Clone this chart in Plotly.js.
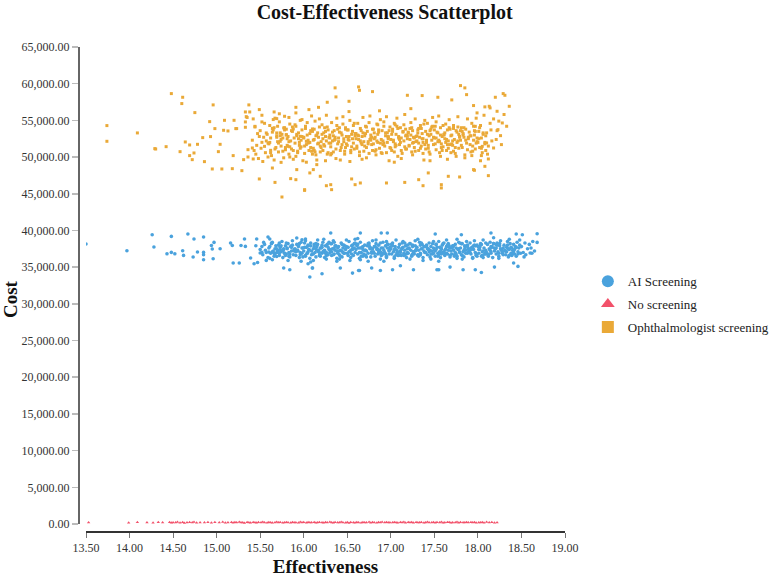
<!DOCTYPE html>
<html>
<head>
<meta charset="utf-8">
<script src="https://cdn.plot.ly/plotly-3.0.1.min.js"></script>
<style>html,body{margin:0;padding:0;background:#fff;}#chart{width:774px;height:577px;}</style>
</head>
<body>
<div id="chart"></div>
<script>
// ---------- Data ----------
const seriesNames = ["AI Screening", "No screening", "Ophthalmologist screening"];

const aiEff = [
13.50,13.97,14.26,14.28,14.48,14.43,14.48,14.52,14.67,14.74,14.85,14.61,14.62,14.73,14.78,14.85,14.85,14.85,14.94,14.97,
14.96,14.95,15.04,15.16,15.18,15.19,15.26,15.28,15.33,15.32,15.39,15.43,15.46,15.45,15.47,15.50,15.52,15.54,15.59,15.61,
15.64,15.57,15.60,15.64,15.69,15.72,15.77,15.84,16.07,16.10,16.05,15.92,15.98,16.02,16.21,16.56,16.31,16.65,16.89,16.96,
17.51,17.81,18.15,18.44,18.51,18.68,18.68,18.60,18.46,18.41,18.04,17.97,18.19,17.83,17.68,17.53,17.55,17.26,17.11,16.88,
17.02,16.63,16.64,16.78,16.42,16.10,
15.50,15.53,15.55,15.57,15.59,15.52,15.56,
15.60,15.62,15.63,15.65,15.66,15.68,15.69,15.61,15.67,
15.70,15.71,15.72,15.73,15.74,15.75,15.76,15.77,15.78,15.79,15.73,
15.80,15.81,15.82,15.83,15.84,15.85,15.86,15.87,15.88,15.89,15.82,15.86,
15.90,15.91,15.92,15.93,15.94,15.95,15.96,15.97,15.98,15.99,15.93,15.97,
16.00,16.01,16.02,16.03,16.04,16.05,16.06,16.07,16.08,16.09,16.02,16.05,16.08,
16.10,16.11,16.12,16.13,16.14,16.15,16.16,16.17,16.18,16.19,16.11,16.14,16.17,
16.20,16.21,16.22,16.23,16.24,16.25,16.26,16.27,16.28,16.29,16.23,16.26,16.21,
16.30,16.31,16.32,16.33,16.34,16.35,16.36,16.37,16.38,16.39,16.32,16.35,16.38,
16.40,16.41,16.42,16.43,16.44,16.45,16.46,16.47,16.48,16.49,16.41,16.44,16.47,
16.50,16.51,16.52,16.53,16.54,16.55,16.56,16.57,16.58,16.59,16.53,16.56,16.59,
16.60,16.61,16.62,16.63,16.64,16.65,16.66,16.67,16.68,16.69,16.62,16.65,16.68,
16.70,16.71,16.72,16.73,16.74,16.75,16.76,16.77,16.78,16.79,16.71,16.74,16.77,
16.80,16.81,16.82,16.83,16.84,16.85,16.86,16.87,16.88,16.89,16.83,16.86,16.89,
16.90,16.91,16.92,16.93,16.94,16.95,16.96,16.97,16.98,16.99,16.92,16.95,16.98,
17.00,17.01,17.02,17.03,17.04,17.05,17.06,17.07,17.08,17.09,17.01,17.04,17.07,
17.10,17.11,17.12,17.13,17.14,17.15,17.16,17.17,17.18,17.19,17.13,17.16,17.19,
17.20,17.21,17.22,17.23,17.24,17.25,17.26,17.27,17.28,17.29,17.22,17.25,17.28,
17.30,17.31,17.32,17.33,17.34,17.35,17.36,17.37,17.38,17.39,17.31,17.34,17.37,
17.40,17.41,17.42,17.43,17.44,17.45,17.46,17.47,17.48,17.49,17.43,17.46,17.49,
17.50,17.51,17.52,17.53,17.54,17.55,17.56,17.57,17.58,17.59,17.52,17.55,17.58,
17.60,17.61,17.62,17.63,17.64,17.65,17.66,17.67,17.68,17.69,17.61,17.64,17.67,
17.70,17.71,17.72,17.73,17.74,17.75,17.76,17.77,17.78,17.79,17.73,17.76,17.79,
17.80,17.81,17.82,17.83,17.84,17.85,17.86,17.87,17.88,17.89,17.82,17.85,17.88,
17.90,17.91,17.92,17.93,17.94,17.95,17.96,17.97,17.98,17.99,17.91,17.94,17.97,
18.00,18.01,18.02,18.03,18.04,18.05,18.06,18.07,18.08,18.09,18.03,18.06,18.09,
18.10,18.11,18.12,18.13,18.14,18.15,18.16,18.17,18.18,18.19,18.12,18.15,18.18,
18.20,18.21,18.22,18.23,18.24,18.25,18.26,18.27,18.28,18.29,18.21,18.24,18.27,
18.30,18.31,18.32,18.33,18.34,18.35,18.36,18.37,18.38,18.39,18.33,18.36,18.39,
18.40,18.41,18.42,18.43,18.44,18.45,18.46,18.47,18.48,18.49,
18.50,18.52,18.54,18.55,18.57,18.59,18.53,
18.61,18.63,18.65,18.62,
15.61,15.64,15.67,15.69,15.63,15.66,
15.71,15.74,15.77,15.79,15.72,15.76,15.78,
15.81,15.84,15.87,15.89,15.83,15.86,15.80,
15.91,15.94,15.96,15.98,15.92,15.99,15.95,
16.01,16.04,16.06,16.08,16.02,16.09,16.05,
16.11,16.14,16.16,16.18,16.12,16.19,16.15,
16.21,16.24,16.26,16.28,16.22,16.29,16.25,
16.31,16.34,16.36,16.38,16.32,16.39,16.35,
16.41,16.44,16.46,16.48,16.42,16.49,16.45,
16.51,16.54,16.56,16.58,16.52,16.59,16.55,
16.61,16.64,16.66,16.68,16.62,16.69,16.65,
16.71,16.74,16.76,16.78,16.72,16.79,16.75,
16.81,16.84,16.86,16.88,16.82,16.89,16.85,
16.91,16.94,16.96,16.98,16.92,16.99,16.95,
17.01,17.04,17.06,17.08,17.02,17.09,17.05,
17.11,17.14,17.16,17.18,17.12,17.19,17.15,
17.21,17.24,17.26,17.28,17.22,17.29,17.25,
17.31,17.34,17.36,17.38,17.32,17.39,17.35,
17.41,17.44,17.46,17.48,17.42,17.49,17.45,
17.51,17.54,17.56,17.58,17.52,17.59,17.55,
17.61,17.64,17.66,17.68,17.62,17.69,17.65,
17.71,17.74,17.76,17.78,17.72,17.79,17.75,
17.81,17.84,17.86,17.88,17.82,17.89,17.85,
17.91,17.94,17.96,17.98,17.92,17.99,17.95,
18.01,18.04,18.06,18.08,18.02,18.09,18.05,
18.11,18.14,18.16,18.18,18.12,18.19,18.15,
18.21,18.24,18.26,18.28,18.22,18.29,18.25,
18.31,18.34,18.36,18.38,18.32,18.39,18.35,
18.41,18.44,18.46,18.48,18.42
];
const aiCost = [
38150,37240,39420,37740,39190,36830,37010,36830,39510,38830,39100,37240,36600,36380,37060,37010,36690,36010,37960,38370,
36150,37470,37510,38290,37960,35560,35560,37960,37830,38830,36240,35460,38830,37920,35640,36920,37010,38370,39100,38830,
38370,35920,37060,36010,36460,36920,34880,34650,33650,34880,35460,38970,38740,38830,34100,34190,39650,39650,39650,39650,
39520,39420,39650,39520,39420,39560,38370,36920,35100,35560,34280,34650,35010,34650,35010,34650,34650,34650,35190,34550,
34650,34550,34550,34880,34880,34880,
37400,36700,38100,37000,36300,37800,37300,
37600,36900,38300,37200,36500,37900,37000,36200,37500,
37300,38000,36600,37700,37100,38500,36300,37500,36900,37900,37400,
36800,37600,38200,37000,36400,37800,37200,38600,36700,37400,35900,37900,
37500,36600,38100,37200,37800,36300,37000,38400,36900,37600,37300,35800,
37200,38300,36500,37700,36900,38000,37400,36200,37900,36700,38600,37100,35700,
36800,37500,38100,37000,36400,37800,38700,37300,36600,37600,35900,38200,37100,
37600,36900,38400,37200,36300,37900,37000,38100,36700,37400,38800,36100,37700,
37000,38200,36600,37500,38600,36800,37300,37900,36200,37600,37100,38400,35800,
37800,36700,37300,38300,36400,37600,38000,36900,37400,38700,36100,37200,37900,
36900,37700,38500,37100,36300,37900,37400,36600,38200,37000,35900,37500,38800,
37400,38100,36800,37600,36200,38400,37000,37700,36500,37300,38900,36000,37800,
38000,36600,37200,37900,36900,38300,37500,36400,37100,38600,37300,35800,37600,
37100,37800,36500,38200,37400,36800,38000,37300,36100,37600,38700,36900,37000,
36700,38400,37300,37000,37900,36300,37600,38100,36800,37400,35800,38500,37200,
37500,36800,38300,37100,36400,37800,38700,37000,36600,37700,38100,36200,37300,
38100,37200,36600,37600,38500,36900,37300,37900,36300,37000,38300,36700,37500,
36900,37600,38200,37300,36500,38000,37100,36800,38600,37400,36100,37800,37200,
37700,36600,37300,38400,36900,37500,38100,36300,37800,37000,38800,36700,35900,
37000,38000,36700,37400,38300,36400,37800,37200,36800,38500,37500,36100,37600,
37300,36500,38100,37700,36900,38500,37100,36300,37600,38000,37400,35800,36800,
38200,37000,36600,37500,38700,36800,37300,37900,36400,37200,38300,36900,37700,
36800,37900,37300,36500,38100,37600,36200,37400,38400,37000,36700,38800,37100,
37600,36700,38200,37100,36400,37800,37300,38500,36900,37500,36100,37900,38000,
37200,38300,36800,37700,36300,37400,38600,37000,36600,38000,37500,36200,37900,
37800,36900,37400,38200,36500,37100,38700,37600,36800,37300,38000,36300,37000,
37000,38100,36600,37500,38400,36900,37700,36300,38200,37200,36700,37800,39000,
37500,36800,38300,37100,36500,37900,38600,37300,36900,37600,38100,36200,37400,
38000,37200,36700,37700,38500,36400,37400,38200,36900,37600,37100,38800,36600,
37300,38100,36800,37800,36500,38400,37100,37600,38700,36900,
37800,37000,38300,36700,37500,38100,36400,
37600,38500,37200,36900,
37800,37100,36700,37500,38200,36900,
37000,37900,37400,36600,38300,37200,36900,
37500,36800,38000,37200,36500,37700,38300,
37100,38000,36700,37600,37300,36400,38200,
37700,36900,37400,38300,36600,37200,37900,
36800,37500,38100,37000,37800,36500,37300,
38000,37300,36600,37700,37100,38400,36900,
37400,36700,37900,37200,38200,36900,37600,
37200,38100,36900,37500,36500,37800,37000,
36600,37300,38000,37600,37100,38300,36800,
37900,37000,36500,37400,38100,36800,37600,
37300,38200,37700,36900,36400,37500,38000,
36900,37600,37200,38300,37800,36600,37400,
37600,36800,38100,37300,36900,37700,36500,
38100,37400,36700,37000,37900,36600,37500,
37000,37700,38300,36800,37400,38000,36600,
37500,36600,37100,37900,38200,37300,36800,
36700,38000,37500,37200,36500,37800,38300,
37800,37100,36800,38200,37500,36900,37300,
37200,36500,37700,37400,38100,37000,36700,
36900,37800,38200,36600,37300,37600,38000,
37700,37000,36500,37500,37900,38300,36800,
38200,37300,36900,37800,36600,37100,37500,
37000,37600,38000,36700,37400,36500,37900,
37400,38100,37200,36800,37700,38300,36600,
36800,37300,37800,38200,36500,37600,37100,
37600,36900,37500,37100,38000,36700,38200,
37300,38000,36600,37700,37200,36900,37500,
37100,37700,36800,38000,37400
];

const noEff = [
13.53,13.99,14.09,14.20,14.27,14.33,14.38,14.46,14.48,14.50,
14.53,14.55,14.58,14.61,14.63,14.66,14.69,14.72,14.74,14.77,
14.81,14.86,14.90,14.94,14.98,15.03,15.07,15.10,15.13,15.17,
15.19,15.21,15.23,15.26,15.28,15.30,15.32,15.35,15.37,15.39,
15.42,15.44,15.46,15.48,15.51,15.53,15.55,15.58,15.60,15.62,
15.64,15.67,15.69,15.71,15.73,15.76,15.78,15.80,15.82,15.85,
15.87,15.89,15.91,15.94,15.96,15.98,16.00,16.03,16.05,16.07,
16.09,16.12,16.14,16.16,16.18,16.21,16.23,16.25,16.27,16.30,
16.32,16.34,16.36,16.39,16.41,16.43,16.45,16.48,16.50,16.52,
16.54,16.57,16.59,16.61,16.63,16.66,16.68,16.70,16.72,16.75,
16.77,16.79,16.81,16.84,16.86,16.88,16.90,16.93,16.95,16.97,
16.99,17.02,17.04,17.06,17.08,17.11,17.13,17.15,17.17,17.20,
17.22,17.24,17.26,17.29,17.31,17.33,17.35,17.38,17.40,17.42,
17.44,17.47,17.49,17.51,17.53,17.56,17.58,17.60,17.62,17.65,
17.67,17.69,17.71,17.74,17.76,17.78,17.80,17.83,17.85,17.87,
17.89,17.92,17.94,17.96,17.98,18.01,18.03,18.05,18.07,18.10,
18.13,18.16,18.19,18.22
];
const noCost = [
210,180,240,200,170,230,190,250,160,220,
200,260,180,230,150,210,240,190,270,170,
220,190,250,160,230,200,280,180,210,240,
170,230,200,260,190,220,150,240,210,180,
250,200,170,230,190,270,210,160,240,200,
180,220,260,190,230,170,210,250,200,160,
240,190,220,180,270,200,230,170,250,210,
190,230,160,220,250,200,180,240,210,270,
200,170,240,210,190,260,220,180,230,150,
230,200,180,250,210,170,240,190,220,260,
180,240,210,160,230,200,270,190,250,210,
220,190,250,200,170,230,210,260,180,240,
200,230,170,240,210,190,250,180,220,270,
190,210,240,170,230,200,260,180,220,250,
240,180,220,200,260,170,230,210,190,250,
210,250,190,230,170,220,200,240,180,260,
200,230,180,220
];

const ophEff = [
13.74,13.74,14.09,14.29,14.30,14.42,14.48,14.61,14.60,14.75,14.58,14.64,14.69,14.69,14.72,14.74,14.78,14.84,14.86,14.92,
14.93,14.96,14.98,14.95,15.02,15.04,15.06,15.09,15.08,15.13,15.18,15.19,15.20,15.22,15.23,15.29,15.31,15.33,15.34,15.35,
15.33,15.33,15.36,15.37,15.38,15.41,15.42,15.36,15.44,15.49,15.49,15.52,15.52,15.55,15.57,15.59,15.62,15.64,15.66,15.65,
15.67,15.69,15.69,15.73,15.74,15.75,15.77,15.78,15.80,15.82,15.84,15.85,15.88,15.91,15.91,15.91,15.92,15.96,15.98,16.01,
16.03,16.06,16.07,16.10,16.12,16.15,16.17,16.36,16.63,16.64,16.79,16.37,16.52,16.27,17.19,17.36,17.54,17.70,17.80,17.85,
17.87,18.20,18.29,18.31,18.36,18.12,18.08,17.58,17.58,17.37,17.32,16.95,16.65,16.59,16.31,16.32,16.26,16.01,16.19,16.11,
16.55,17.16,17.79,17.95,17.96,17.66,17.43,18.26,18.28,18.23,18.22,18.13,18.14,18.12,18.10,18.18,18.04,18.05,17.97,17.95,17.99,18.08,
15.41,15.43,15.44,15.46,15.47,15.48,15.49,15.42,15.45,
15.50,15.51,15.53,15.54,15.55,15.56,15.58,15.59,15.52,15.57,
15.60,15.61,15.62,15.63,15.65,15.66,15.67,15.68,15.69,15.64,
15.70,15.71,15.72,15.73,15.74,15.76,15.77,15.78,15.79,15.75,15.72,
15.80,15.81,15.82,15.83,15.84,15.85,15.86,15.87,15.88,15.89,15.83,
15.90,15.91,15.92,15.93,15.94,15.95,15.96,15.97,15.98,15.99,15.94,15.91,
16.00,16.01,16.02,16.03,16.04,16.05,16.06,16.07,16.08,16.09,16.03,16.06,
16.10,16.11,16.12,16.13,16.14,16.15,16.16,16.17,16.18,16.19,16.12,16.15,
16.20,16.21,16.22,16.23,16.24,16.25,16.26,16.27,16.28,16.29,16.22,16.25,16.27,
16.30,16.31,16.32,16.33,16.34,16.35,16.36,16.37,16.38,16.39,16.33,16.36,16.31,
16.40,16.41,16.42,16.43,16.44,16.45,16.46,16.47,16.48,16.49,16.42,16.45,16.48,
16.50,16.51,16.52,16.53,16.54,16.55,16.56,16.57,16.58,16.59,16.53,16.56,16.52,
16.60,16.61,16.62,16.63,16.64,16.65,16.66,16.67,16.68,16.69,16.62,16.65,16.67,
16.70,16.71,16.72,16.73,16.74,16.75,16.76,16.77,16.78,16.79,16.72,16.75,16.77,
16.80,16.81,16.82,16.83,16.84,16.85,16.86,16.87,16.88,16.89,16.82,16.85,16.87,
16.90,16.91,16.92,16.93,16.94,16.95,16.96,16.97,16.98,16.99,16.92,16.95,16.97,
17.00,17.01,17.02,17.03,17.04,17.05,17.06,17.07,17.08,17.09,17.02,17.05,17.07,17.04,
17.10,17.11,17.12,17.13,17.14,17.15,17.16,17.17,17.18,17.19,17.12,17.15,17.17,
17.20,17.21,17.22,17.23,17.24,17.25,17.26,17.27,17.28,17.29,17.22,17.25,17.27,17.23,
17.30,17.31,17.32,17.33,17.34,17.35,17.36,17.37,17.38,17.39,17.32,17.35,17.37,
17.40,17.41,17.42,17.43,17.44,17.45,17.46,17.47,17.48,17.49,17.42,17.45,17.47,
17.50,17.51,17.52,17.53,17.54,17.55,17.56,17.57,17.58,17.59,17.52,17.55,17.57,
17.60,17.61,17.62,17.63,17.64,17.65,17.66,17.67,17.68,17.69,17.62,17.65,17.67,
17.70,17.71,17.72,17.73,17.74,17.75,17.76,17.77,17.78,17.79,17.72,17.75,17.77,
17.80,17.81,17.82,17.83,17.84,17.85,17.86,17.87,17.88,17.89,17.82,17.85,
17.90,17.91,17.92,17.93,17.94,17.95,17.96,17.97,17.98,17.99,17.93,17.96,
18.00,18.01,18.02,18.03,18.04,18.05,18.06,18.07,18.08,18.09,18.03,
18.10,18.12,18.14,18.16,18.18,18.11,18.15,
18.21,18.24,18.27,18.30,18.22,18.33,
15.61,15.64,15.67,15.69,15.62,15.66,
15.71,15.73,15.76,15.78,15.74,15.79,15.70,
15.81,15.84,15.86,15.88,15.83,15.87,15.80,
15.92,15.95,15.97,15.90,15.93,15.98,15.96,
16.01,16.04,16.07,16.09,16.02,16.05,16.08,16.00,
16.11,16.13,16.16,16.19,16.14,16.18,16.10,16.17,
16.21,16.23,16.26,16.28,16.24,16.29,16.20,16.25,
16.31,16.34,16.37,16.39,16.32,16.35,16.38,16.30,
16.41,16.43,16.46,16.49,16.44,16.47,16.40,16.48,
16.51,16.54,16.57,16.59,16.52,16.55,16.58,16.50,
16.61,16.63,16.66,16.69,16.64,16.67,16.60,16.68,
16.71,16.74,16.76,16.79,16.72,16.77,16.70,16.78,
16.81,16.83,16.86,16.88,16.84,16.89,16.80,16.85,
16.91,16.94,16.96,16.99,16.92,16.97,16.90,16.98,
17.01,17.03,17.06,17.08,17.04,17.09,17.00,17.05,
17.11,17.14,17.16,17.19,17.12,17.17,17.10,17.18,
17.21,17.23,17.26,17.28,17.24,17.29,17.20,17.25,
17.31,17.34,17.36,17.39,17.32,17.37,17.30,17.38,
17.41,17.43,17.46,17.48,17.44,17.49,17.40,17.45,
17.51,17.54,17.56,17.59,17.52,17.57,17.50,17.58,
17.61,17.63,17.66,17.68,17.64,17.69,17.60,17.65,
17.71,17.74,17.76,17.79,17.72,17.77,17.70,17.78,
17.81,17.83,17.86,17.88,17.84,17.89,17.80,
17.91,17.94,17.97,17.99,17.92,17.95,17.98,
18.01,18.04,18.06,18.08,18.02,18.09
];
const ophCost = [
54290,52150,53290,51150,51100,51420,58650,58150,57290,56060,50740,52060,51650,50200,49650,50560,51740,52650,49380,54830,
52790,57110,53880,48380,50740,51740,48380,55010,53650,53560,48420,50200,55010,53880,53880,48150,49650,56150,55510,55400,
54790,54060,51010,57110,56150,51240,49740,50010,54190,56470,47020,54790,52010,51460,53290,50010,50920,48510,56150,55110,
46550,55240,53290,52150,49280,44560,53970,55560,53060,51460,50010,47060,53830,56780,56020,46920,48290,52830,55110,45460,
52150,56470,47840,53830,50920,48970,56780,59430,59560,59100,58920,58200,57600,57470,58420,58380,58150,57790,59740,59430,
58510,58150,58650,58420,56920,47470,48740,46240,45790,46100,46920,46470,46470,46240,46240,45560,46100,45560,47380,48290,
47020,46550,47290,48290,48200,47380,47840,52920,54650,53740,56240,56920,56700,49740,51930,51240,50200,51460,54190,57020,56020,56840,
52300,50900,54100,51600,53200,49800,52800,55200,50400,
53600,51200,49400,52700,54600,50600,53100,51900,55700,52200,
51800,54300,52600,50200,53700,49600,55300,51300,52900,53900,
52100,50700,54800,53300,51500,52600,49900,54000,51000,53100,55900,
53800,51600,52800,50400,54500,52200,51100,53500,49700,52600,55400,
51900,54200,52900,50800,53300,52000,55000,51400,53700,49500,52500,50100,
52700,50500,53900,51700,54700,52300,50900,53200,51300,55600,49300,52000,
53500,51200,52400,54900,50300,53000,51800,52700,55200,50700,53800,49600,
52100,54400,50900,53300,51500,52800,55700,50400,53700,51900,52500,49500,54100,
53000,51400,54700,52200,50700,53600,52400,49800,55300,51800,53400,52700,50300,
52600,54000,50900,53300,51700,55500,52100,50400,53800,52800,49600,54500,51300,
51600,53700,52300,55000,50600,53100,52500,54300,51100,52900,49400,53500,56200,
53200,51500,54600,52400,50200,53900,51900,52800,55400,50800,53000,52200,49700,
52900,54200,51300,53500,52100,50500,55600,52600,51700,53800,49900,54700,52300,
51800,53300,52700,50300,54500,52000,53700,51200,55100,52400,50800,53100,56300,
53600,52200,54800,51500,52900,50600,53300,52500,49500,54100,51900,55500,52700,
52400,50900,53800,52100,54600,51400,53100,55300,50100,52800,53500,51800,54200,49300,
51700,54000,52600,50500,53400,52200,55800,51100,53000,52500,49800,54400,52900,
53300,51600,52400,54700,50700,53600,52000,51300,55200,52800,53900,50300,52600,56600,
52200,53700,50900,52700,54300,51500,53200,52500,49600,55000,51900,53900,52000,
53500,52000,54600,51200,52900,50400,53800,52300,55400,51700,53100,49500,54100,
52600,54200,51000,53400,52100,55600,50600,53000,51800,52800,54800,52300,50100,
51400,53100,52500,54500,50900,53700,52200,55100,51700,52900,53300,49700,54000,
53000,51600,54300,52400,50500,53600,52000,55500,51200,52700,53900,50100,52200,
52300,54000,51300,53200,52700,50300,53800,51900,55200,52500,53500,49900,
53400,51700,52900,54600,50800,52300,53600,51100,55300,52600,50200,53000,
52000,53500,51300,54300,52600,50600,53100,55700,51800,52900,49500,
53300,51500,54600,52200,55200,50400,53700,
52400,54900,51700,55800,53600,54200,
52000,53400,51100,52700,50600,54000,
51900,52900,50800,53700,52400,51300,54200,
52500,51400,53600,50900,52100,54100,53000,
53100,51600,52300,54400,50600,52800,51200,
51500,53000,52000,50800,54200,51900,53600,52600,
52300,50700,53300,51500,52900,54100,50400,51900,
53100,51700,52200,50600,54000,52700,51300,53500,
51900,52900,51100,53800,50500,52300,54300,52600,
53400,51300,52500,51800,53000,50800,52100,54000,
52400,50900,51900,53200,52800,51400,54600,53700,
51200,52900,53600,52100,50700,51700,52500,53300,
53200,51800,52400,50900,54100,53000,51500,52700,
52500,51000,53400,51900,52200,50600,53800,54400,
51700,53300,52000,51300,54200,52800,50500,53600,
53100,52300,51600,53900,50700,52600,51200,54400,
52000,53500,51400,52900,50900,53800,52400,51100,
51500,53000,52700,50800,54000,52100,53400,51900,
53300,51200,52500,51700,53900,50500,52900,54500,
52300,51600,53100,54200,50700,52700,51100,53600,
51800,53300,52100,50900,52600,54000,53700,51300,
53000,52000,51200,53800,52400,50600,54300,51700,
52200,51300,53400,52800,50800,54100,51800,53100,
51600,53000,52300,51000,54000,52700,53600,
52900,51500,53500,52100,50700,54200,51900,
52500,51200,53300,52000,54000,50900
];

const colors = ["#4aa2dd", "#f2516a", "#eaa937"];
const yTicks = [0,5000,10000,15000,20000,25000,30000,35000,40000,45000,50000,55000,60000,65000];
const xTicks = [13.5,14.0,14.5,15.0,15.5,16.0,16.5,17.0,17.5,18.0,18.5,19.0];
const yTitle = "Cost";
const xTitle = "Effectiveness";
const chartTitle = "Cost-Effectiveness Scatterplot";

const serif = "Liberation Serif, Times New Roman, serif";

const traces = [
  {x: aiEff, y: aiCost, name: seriesNames[0], type: "scatter", mode: "markers", legendgroup: "a",
   marker: {symbol: "circle", size: 3.6, color: colors[0]}},
  {x: noEff, y: noCost, name: seriesNames[1], type: "scatter", mode: "markers", legendgroup: "b",
   marker: {symbol: "triangle-up", size: 3, color: colors[1]}},
  {x: ophEff, y: ophCost, name: seriesNames[2], type: "scatter", mode: "markers", legendgroup: "c",
   marker: {symbol: "square", size: 3, color: colors[2]}}
];

const layout = {
  width: 774, height: 577,
  margin: {l: 79, r: 209, t: 47, b: 46, pad: 0, autoexpand: false},
  paper_bgcolor: "#ffffff", plot_bgcolor: "#ffffff",
  font: {family: serif, color: "#222"},
  title: {text: "<b>" + chartTitle + "</b>", xref: "container", x: 0.497, xanchor: "center",
          yref: "container", y: 0.98, yanchor: "middle",
          font: {family: serif, size: 20, color: "#111"}},
  xaxis: {
    domain: [7/486, 1], anchor: "free", position: 0,
    range: [13.5, 19.0], tickvals: xTicks, tickformat: ".2f",
    showline: true, linecolor: "#333", linewidth: 1.5,
    ticks: "outside", ticklen: 5, tickcolor: "#777", tickwidth: 1,
    showgrid: false, zeroline: false,
    tickfont: {family: serif, size: 12, color: "#333"},
    title: {text: "<b>" + xTitle + "</b>", font: {family: serif, size: 19, color: "#111"}, standoff: 6}
  },
  yaxis: {
    domain: [7/484, 1], anchor: "free", position: 0,
    range: [0, 65000], tickvals: yTicks, tickformat: ",.2f",
    showline: true, linecolor: "#666", linewidth: 2,
    ticks: "outside", ticklen: 6, tickcolor: "#bbb", tickwidth: 1.5,
    showgrid: false, zeroline: false,
    tickfont: {family: serif, size: 12, color: "#333"}
  },
  annotations: [
    {text: "<b>" + yTitle + "</b>", textangle: -90, xref: "paper", yref: "paper",
     x: (10 - 79) / 486, y: (531 - 299) / 484, xanchor: "center", yanchor: "middle",
     showarrow: false, font: {family: serif, size: 19, color: "#111"}}
  ],
  showlegend: true,
  legend: {x: 1.047, xanchor: "left", y: 0.547, yanchor: "top",
           font: {family: serif, size: 13, color: "#222"},
           itemsizing: "constant", bgcolor: "rgba(0,0,0,0)",
           traceorder: "grouped", tracegroupgap: 3}
};

Plotly.newPlot("chart", traces, layout, {displayModeBar: false, staticPlot: true});
</script>
</body>
</html>
